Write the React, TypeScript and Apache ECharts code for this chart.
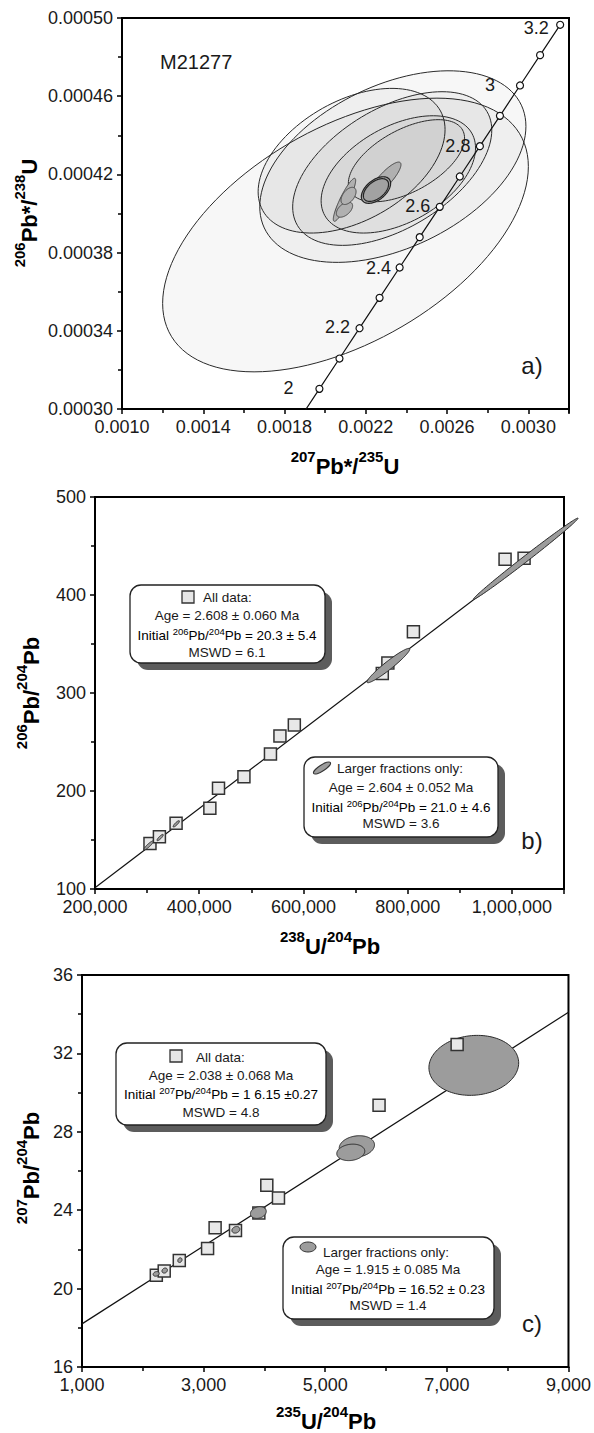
import React, { useEffect, useRef } from "react";
import * as echarts from "echarts";

// ---------- Panel a: concordia (206Pb*/238U vs 207Pb*/235U) ----------
const concordiaAge = [1.9, 2.0, 2.1, 2.2, 2.3, 2.4, 2.5, 2.6, 2.7, 2.8, 2.9, 3.0, 3.1, 3.2];
const concordiaX = [0.001873, 0.0019716, 0.0020703, 0.002169, 0.0022677, 0.0023664, 0.0024652, 0.0025639, 0.0026625, 0.0027614, 0.0028601, 0.0029589, 0.0030577, 0.0031565];
const concordiaY = [0.00029478, 0.0003103, 0.00032581, 0.00034133, 0.00035685, 0.00037237, 0.00038789, 0.00040341, 0.00041893, 0.00043444, 0.00044996, 0.00046549, 0.00048101, 0.00049652];
const concordiaLabel = ["", "2", "", "2.2", "", "2.4", "", "2.6", "", "2.8", "", "3", "", "3.2"];

// error ellipses: centre, half-width in x, half-height in y, correlation
const ellA_cx = [0.0021, 0.002333, 0.00213, 0.00233, 0.00236, 0.0024, 0.002295, 0.00225, 0.00225, 0.002095, 0.002095, 0.002115];
const ellA_cy = [0.000389, 0.000424, 0.000427, 0.000423, 0.00042, 0.000427, 0.0004175, 0.000412, 0.000412, 0.000407, 0.000402, 0.000409];
const ellA_sx = [0.0009, 0.000655, 0.00046, 0.00049, 0.00038, 0.000286, 0.000078, 0.000072, 0.000062, 0.000055, 0.00004, 0.000037];
const ellA_sy = [0.00007, 0.000049, 0.000037, 0.0000393, 0.00003, 0.000021, 0.0000088, 0.0000068, 0.0000058, 0.000011, 0.0000039, 0.0000044];
const ellA_rho = [0.5, 0.42, 0.43, 0.5, 0.45, 0.55, 0.85, 0.5, 0.5, 0.9, 0.5, 0.5];
const ellA_kind = ["light", "light", "light", "light", "light", "light", "mid", "dark", "dark", "mid", "mid", "mid"];

// ---------- Panel b: 206Pb/204Pb vs 238U/204Pb ----------
const bSquaresX = [305500, 323600, 355600, 420400, 437000, 485800, 536700, 554900, 582500, 751300, 762000, 811000, 986900, 1023400];
const bSquaresY = [146.5, 153.4, 167, 182.3, 202.8, 214.6, 237.8, 256, 267.3, 320, 330.6, 362.6, 436.4, 437.4];
const bIsochronX = [200000, 1100000];
const bIsochronY = [101.2, 465.3];
const ellB_cx = [1026500, 763000, 303000, 325000, 356000];
const ellB_cy = [437, 328, 144.5, 152.5, 166.5];
const ellB_sx = [100500, 41000, 9000, 6000, 6000];
const ellB_sy = [41.5, 17.5, 4.5, 3.2, 3.2];
const ellB_rho = [0.996, 0.955, 0.9, 0.85, 0.85];

// ---------- Panel c: 207Pb/204Pb vs 235U/204Pb ----------
const cSquaresX = [2222, 2352, 2600, 3065, 3189, 3524, 3908, 4039, 4231, 5885, 7169];
const cSquaresY = [20.68, 20.9, 21.44, 22.04, 23.1, 22.97, 23.86, 25.27, 24.62, 29.35, 32.46];
const cIsochronX = [1000, 9000];
const cIsochronY = [18.2, 34.1];
const ellCbig_cx = [7443];
const ellCbig_cy = [31.39];
const ellCbig_sx = [738];
const ellCbig_sy = [1.53];
const ellCbig_rho = [0.08];
const ellC_cx = [5520, 5420, 3900, 3530, 2610, 2360, 2220];
const ellC_cy = [27.25, 26.95, 23.88, 23.0, 21.45, 20.92, 20.75];
const ellC_sx = [290, 230, 130, 65, 35, 45, 50];
const ellC_sy = [0.55, 0.42, 0.3, 0.17, 0.12, 0.13, 0.12];
const ellC_rho = [0.15, 0.15, 0.2, 0.2, 0.2, 0.2, 0.2];

const FONT = '"Liberation Sans", Arial, Helvetica, sans-serif';
const INK = "#1a1a1a";

function zip5(a: number[], b: number[], c: number[], d: number[], e: number[]) {
  return a.map((v, i) => [v, b[i], c[i], d[i], e[i]]);
}

function ellipseSeries(axisIndex: number, data: number[][], styleOf: (i: number) => any, z: number) {
  return {
    type: "custom",
    xAxisIndex: axisIndex,
    yAxisIndex: axisIndex,
    z,
    clip: false,
    data,
    encode: { x: 0, y: 1 },
    renderItem: (params: any, api: any) => {
      const cx = api.value(0), cy = api.value(1), sx = api.value(2), sy = api.value(3), rho = api.value(4);
      const s = Math.sqrt(1 - rho * rho);
      const pts: number[][] = [];
      const n = 120;
      for (let k = 0; k < n; k++) {
        const t = (k / n) * Math.PI * 2;
        pts.push(api.coord([cx + sx * Math.cos(t), cy + sy * (rho * Math.cos(t) + s * Math.sin(t))]));
      }
      return { type: "polygon", shape: { points: pts }, style: styleOf(params.dataIndex) };
    },
  };
}

const axisCommon = {
  axisLine: { show: true, onZero: false, lineStyle: { color: "#000", width: 2 } },
  axisTick: { show: true, length: 5, lineStyle: { color: "#000", width: 1.5 } },
  minorTick: { show: true, splitNumber: 2, length: 4, lineStyle: { color: "#000", width: 1.5 } },
  splitLine: { show: false },
  axisLabel: { fontSize: 18, color: INK, fontFamily: FONT, margin: 9 },
};

function richTitle(parts: [string, boolean][]) {
  return parts.map(([t, sup]) => `{${sup ? "s" : "n"}|${t}}`).join("");
}
const titleRich = {
  n: { fontSize: 22, fontWeight: "bold", fontFamily: FONT, color: INK, lineHeight: 30, verticalAlign: "bottom" },
  s: { fontSize: 15, fontWeight: "bold", fontFamily: FONT, color: INK, lineHeight: 30, verticalAlign: "top", padding: [2, 0, 0, 0] },
};
const boxRich = {
  n: { fontSize: 13.5, fontFamily: FONT, color: INK, lineHeight: 17, verticalAlign: "bottom" },
  s: { fontSize: 9.5, fontFamily: FONT, color: INK, lineHeight: 17, verticalAlign: "top", padding: [1, 0, 0, 0] },
};

function txt(x: number, y: number, text: string, rich: any, rotation = 0, align = "center") {
  return {
    type: "text",
    x,
    y,
    rotation,
    z: 100,
    style: { text, rich, align, verticalAlign: "middle", fontFamily: FONT },
  };
}
function plain(x: number, y: number, text: string, size: number, align = "center") {
  return {
    type: "text",
    x,
    y,
    z: 100,
    style: { text, fontSize: size, fontFamily: FONT, fill: INK, align, verticalAlign: "middle" },
  };
}
function box(x: number, y: number, w: number, h: number) {
  return [
    { type: "rect", z: 90, shape: { x: x + 7, y: y + 7, width: w, height: h, r: 11 }, style: { fill: "#5c5c5c" } },
    { type: "rect", z: 91, shape: { x, y, width: w, height: h, r: 11 }, style: { fill: "#fff", stroke: "#222", lineWidth: 1.3 } },
  ];
}
function squareIcon(x: number, y: number) {
  return { type: "rect", z: 95, shape: { x, y, width: 12, height: 12 }, style: { fill: "#e6e6e6", stroke: "#333", lineWidth: 1.3 } };
}

export default function App() {
  const ref = useRef<HTMLDivElement>(null);
  useEffect(() => {
    if (!ref.current) return;
    const chart = echarts.init(ref.current, undefined, { renderer: "svg" });

    const lightStyle = { fill: "rgba(0,0,0,0.032)", stroke: "#2a2a2a", lineWidth: 1 };
    const styleA = (i: number) => {
      const k = ellA_kind[i];
      if (k === "dark") return { fill: "#a2a2a2", stroke: "#222", lineWidth: 1.2 };
      if (k === "mid") return { fill: "#b0b0b0", stroke: "#444", lineWidth: 1 };
      return lightStyle;
    };
    const darkStyle = () => ({ fill: "#9c9c9c", stroke: "#2a2a2a", lineWidth: 1 });

    const concData = concordiaAge.map((a, i) => {
      const item: any = { value: [concordiaX[i], concordiaY[i]] };
      if (i === 0) item.symbol = "none";
      return item;
    });
    const labelOffsets: Record<string, number[]> = {
      "2": [-31, -1], "2.2": [-22, -1], "2.4": [-21, 0], "2.6": [-22, -1], "2.8": [-22, 0], "3": [-30, 0], "3.2": [-24, 3],
    };
    concData.forEach((d: any, i: number) => {
      const t = concordiaLabel[i];
      if (t) {
        d.label = { show: true, position: "inside", formatter: t, offset: labelOffsets[t], fontSize: 18, color: INK, fontFamily: FONT };
      }
    });

    const graphic: any[] = [
      // axis titles
      txt(25, 213, richTitle([["206", true], ["Pb*/", false], ["238", true], ["U", false]]), titleRich, Math.PI / 2),
      txt(345, 462, richTitle([["207", true], ["Pb*/", false], ["235", true], ["U", false]]), titleRich),
      txt(27, 693, richTitle([["206", true], ["Pb/", false], ["204", true], ["Pb", false]]), titleRich, Math.PI / 2),
      txt(330, 942, richTitle([["238", true], ["U/", false], ["204", true], ["Pb", false]]), titleRich),
      txt(27, 1168, richTitle([["207", true], ["Pb/", false], ["204", true], ["Pb", false]]), titleRich, Math.PI / 2),
      txt(326, 1417, richTitle([["235", true], ["U/", false], ["204", true], ["Pb", false]]), titleRich),
      // panel labels
      plain(160, 62, "M21277", 20, "left"),
      plain(532, 365, "a)", 24),
      plain(532, 840, "b)", 24),
      plain(532, 1323, "c)", 24),
      // panel b boxes
      ...box(130, 585, 195, 78),
      squareIcon(182, 591),
      plain(203, 597, "All data:", 13.5, "left"),
      plain(227, 615, "Age = 2.608 ± 0.060 Ma", 13.5),
      txt(227, 634, "{n|Initial }{s|206}{n|Pb/}{s|204}{n|Pb = 20.3 ± 5.4}", boxRich),
      plain(227, 652, "MSWD = 6.1", 13.5),
      ...box(304, 757, 194, 80),
      { type: "ellipse", z: 95, x: 322, y: 768, rotation: 0.58, shape: { cx: 0, cy: 0, rx: 10, ry: 3 }, style: { fill: "#9c9c9c", stroke: "#333", lineWidth: 1 } },
      plain(337, 768, "Larger fractions only:", 13.5, "left"),
      plain(401, 787, "Age = 2.604 ± 0.052 Ma", 13.5),
      txt(401, 806, "{n|Initial }{s|206}{n|Pb/}{s|204}{n|Pb = 21.0 ± 4.6}", boxRich),
      plain(401, 823, "MSWD = 3.6", 13.5),
      // panel c boxes
      ...box(116, 1043, 210, 82),
      squareIcon(170, 1050),
      plain(196, 1057, "All data:", 13.5, "left"),
      plain(221, 1075, "Age = 2.038 ± 0.068 Ma", 13.5),
      txt(221, 1093, "{n|Initial }{s|207}{n|Pb/}{s|204}{n|Pb = 1 6.15 ±0.27}", boxRich),
      plain(221, 1112, "MSWD = 4.8", 13.5),
      ...box(283, 1237, 211, 82),
      { type: "ellipse", z: 95, shape: { cx: 308, cy: 1247, rx: 8, ry: 5 }, style: { fill: "#9c9c9c", stroke: "#333", lineWidth: 1 } },
      plain(386, 1252, "Larger fractions only:", 13.5),
      plain(388, 1269, "Age = 1.915 ± 0.085 Ma", 13.5),
      txt(388, 1288, "{n|Initial }{s|207}{n|Pb/}{s|204}{n|Pb = 16.52 ± 0.23}", boxRich),
      plain(388, 1305, "MSWD = 1.4", 13.5),
    ];

    const gridStyle = { show: true, borderColor: "#000", borderWidth: 2, backgroundColor: "transparent" };

    const option: any = {
      animation: false,
      backgroundColor: "#fff",
      textStyle: { fontFamily: FONT },
      grid: [
        { left: 122, top: 18, width: 447, height: 391, ...gridStyle },
        { left: 95, top: 497, width: 469, height: 392, ...gridStyle },
        { left: 82, top: 975, width: 488, height: 392, ...gridStyle },
      ],
      xAxis: [
        {
          gridIndex: 0, type: "value", min: 0.001, max: 0.0032, interval: 0.0004, ...axisCommon,
          axisLabel: { ...axisCommon.axisLabel, formatter: (v: number) => (v > 0.00315 ? "" : v.toFixed(4)) },
        },
        {
          gridIndex: 1, type: "value", min: 200000, max: 1100000, interval: 200000, ...axisCommon,
          axisLabel: { ...axisCommon.axisLabel, formatter: (v: number) => (v > 1050000 ? "" : v.toLocaleString("en-US")) },
        },
        {
          gridIndex: 2, type: "value", min: 1000, max: 9000, interval: 2000, ...axisCommon,
          axisLabel: { ...axisCommon.axisLabel, formatter: (v: number) => v.toLocaleString("en-US") },
        },
      ],
      yAxis: [
        {
          gridIndex: 0, type: "value", min: 0.0003, max: 0.0005, interval: 0.00004, ...axisCommon,
          axisLabel: { ...axisCommon.axisLabel, formatter: (v: number) => v.toFixed(5) },
        },
        { gridIndex: 1, type: "value", min: 100, max: 500, interval: 100, ...axisCommon },
        { gridIndex: 2, type: "value", min: 16, max: 36, interval: 4, ...axisCommon },
      ],
      series: [
        // panel a
        ellipseSeries(0, zip5(ellA_cx, ellA_cy, ellA_sx, ellA_sy, ellA_rho), styleA, 2),
        {
          type: "line", xAxisIndex: 0, yAxisIndex: 0, z: 5, data: concData,
          symbol: "circle", symbolSize: 7, showSymbol: true, clip: true,
          lineStyle: { color: "#111", width: 1.2 },
          itemStyle: { color: "#fff", borderColor: "#111", borderWidth: 1.2 },
        },
        // panel b
        {
          type: "line", xAxisIndex: 1, yAxisIndex: 1, z: 1, symbol: "none",
          data: bIsochronX.map((x, i) => [x, bIsochronY[i]]),
          lineStyle: { color: "#111", width: 1.2 },
        },
        {
          type: "scatter", xAxisIndex: 1, yAxisIndex: 1, z: 2, symbol: "rect", symbolSize: 12,
          data: bSquaresX.map((x, i) => [x, bSquaresY[i]]),
          itemStyle: { color: "#e8e8e8", borderColor: "#333", borderWidth: 1.5, opacity: 1 },
        },
        ellipseSeries(1, zip5(ellB_cx, ellB_cy, ellB_sx, ellB_sy, ellB_rho), darkStyle, 3),
        // panel c
        {
          type: "line", xAxisIndex: 2, yAxisIndex: 2, z: 1, symbol: "none",
          data: cIsochronX.map((x, i) => [x, cIsochronY[i]]),
          lineStyle: { color: "#111", width: 1.2 },
        },
        ellipseSeries(2, zip5(ellCbig_cx, ellCbig_cy, ellCbig_sx, ellCbig_sy, ellCbig_rho), darkStyle, 2),
        {
          type: "scatter", xAxisIndex: 2, yAxisIndex: 2, z: 3, symbol: "rect", symbolSize: 12,
          data: cSquaresX.map((x, i) => [x, cSquaresY[i]]),
          itemStyle: { color: "#e8e8e8", borderColor: "#333", borderWidth: 1.5, opacity: 1 },
        },
        ellipseSeries(2, zip5(ellC_cx, ellC_cy, ellC_sx, ellC_sy, ellC_rho), darkStyle, 4),
      ],
      graphic,
    };
    chart.setOption(option);
    return () => chart.dispose();
  }, []);
  return <div ref={ref} style={{ position: "absolute", left: 0, top: 0, width: 594, height: 1433 }} />;
}
